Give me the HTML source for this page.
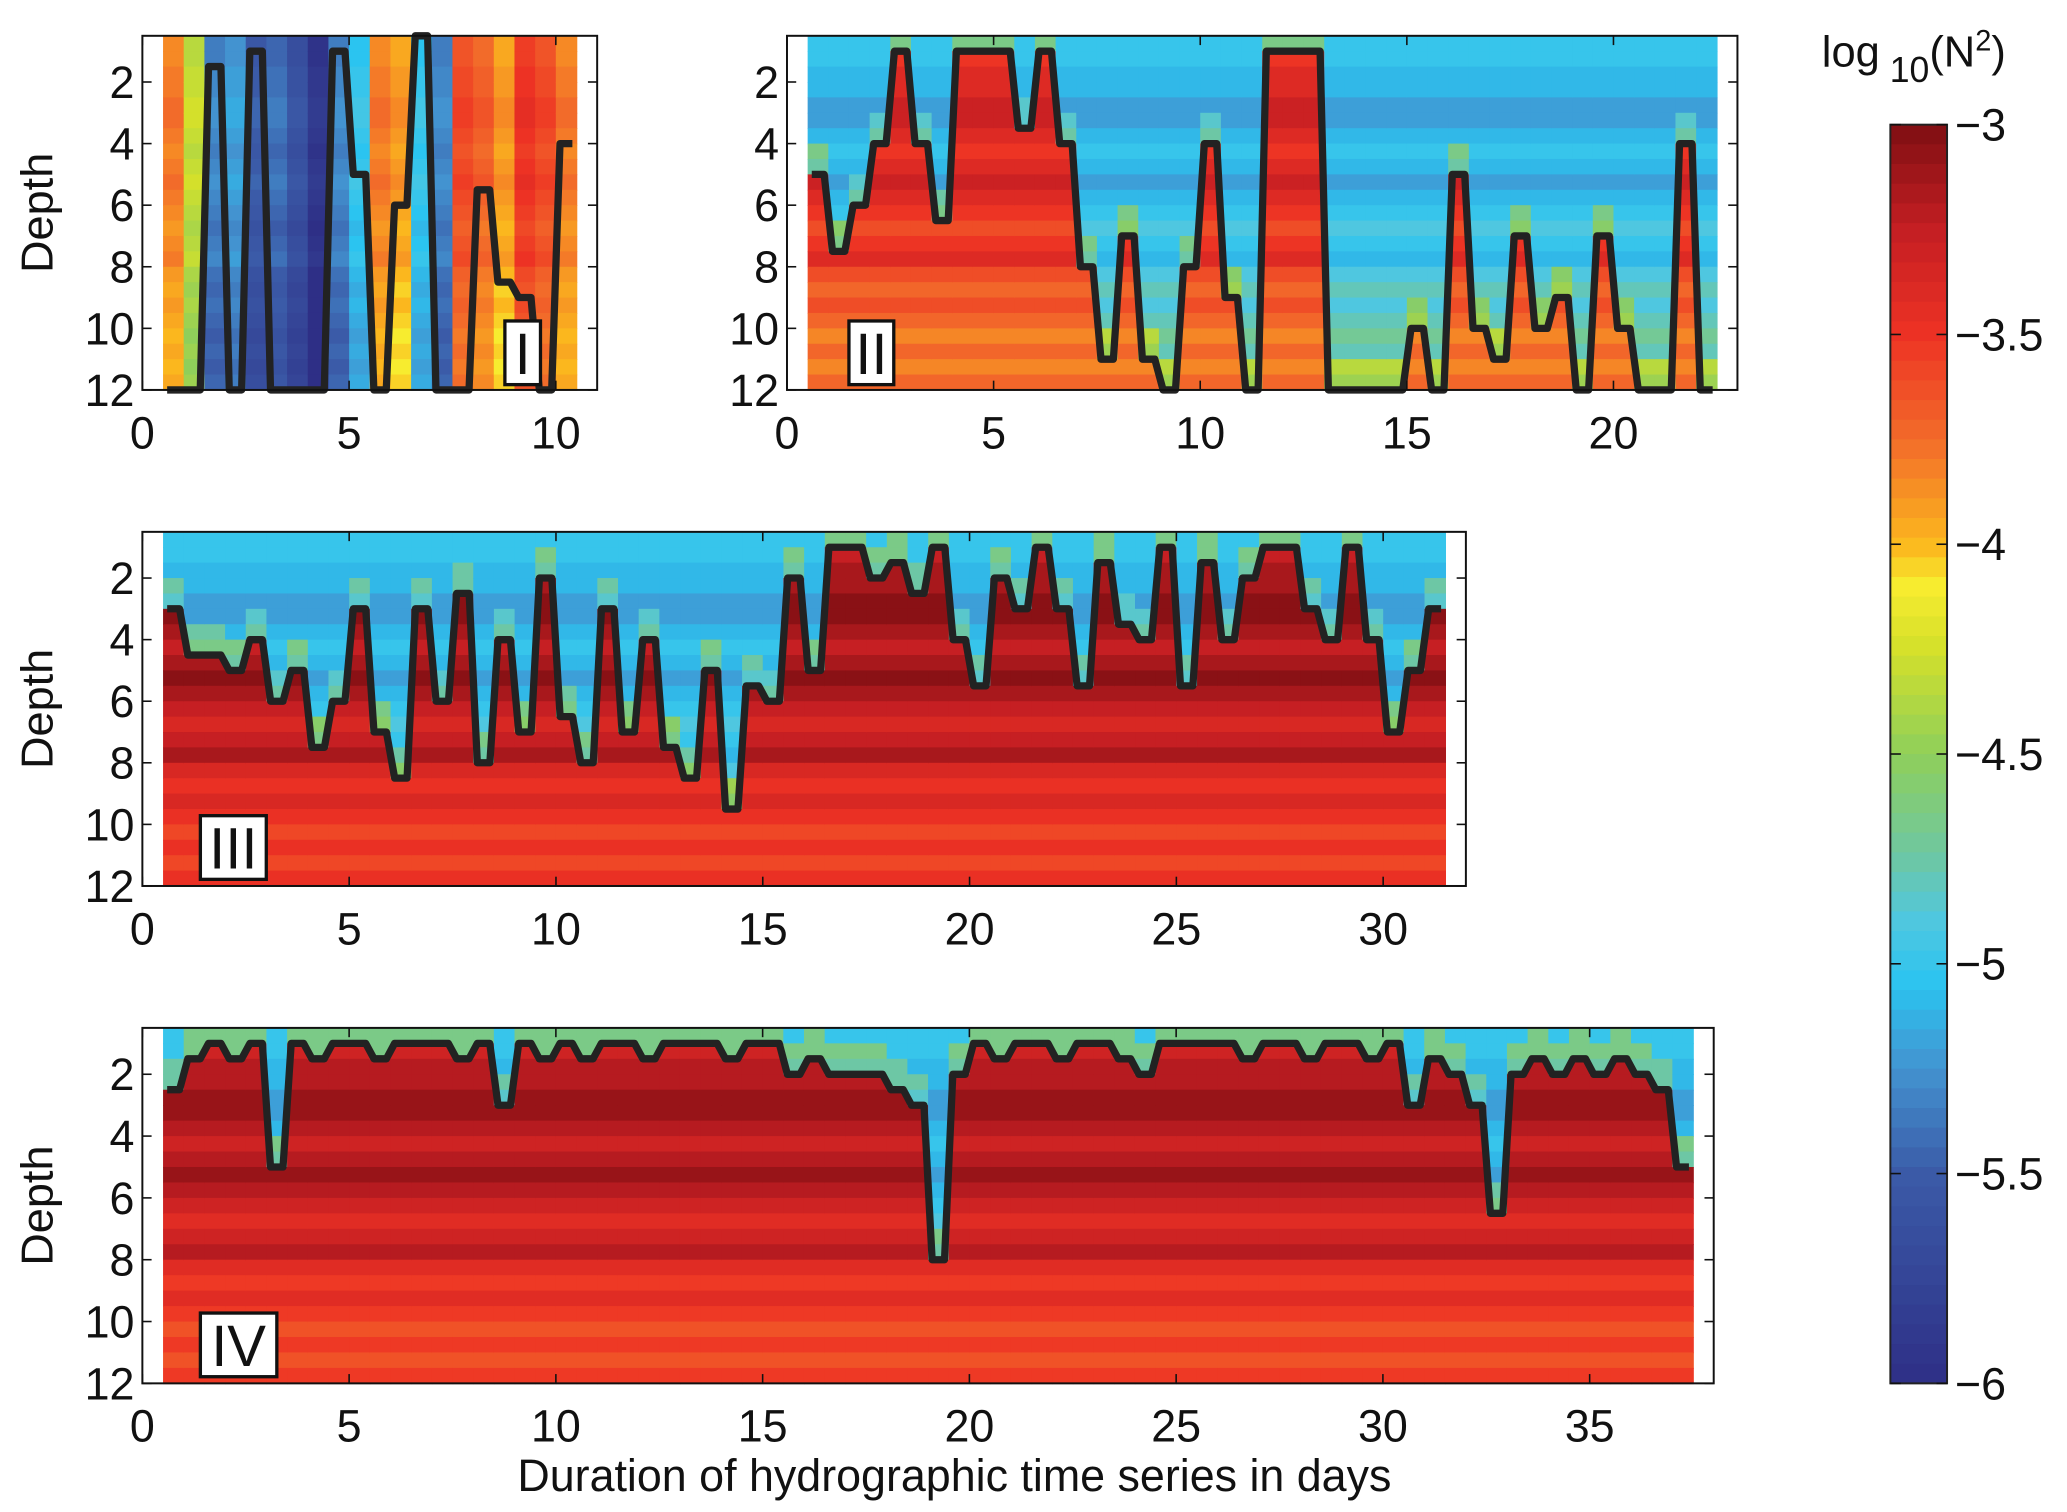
<!DOCTYPE html>
<html><head><meta charset="utf-8"><style>
html,body{margin:0;padding:0;background:#fff}
svg{display:block}
text{font-family:"Liberation Sans",sans-serif;fill:#111}
</style></head><body>
<svg id="fig" width="2067" height="1512" viewBox="0 0 1568 1140" preserveAspectRatio="none" xmlns="http://www.w3.org/2000/svg"></svg>
<script>
// ---------- data ----------
const depthBins = [0.5,1,1.5,2,2.5,3,3.5,4,4.5,5,5.5,6,6.5,7,7.5,8,8.5,9,9.5,10,10.5,11,11.5];
const depthProfile = [0.05,0.05,0,0,-0.05,-0.05,0,0.05,0,-0.05,0,0.05,0.1,0.05,0,0.1,0.15,0.1,0.15,0.2,0.15,0.2,0.15];
const p1Start = 0.5;
const p1Vals = [-3.8,-4.3,-5.3,-5.2,-5.5,-5.4,-5.6,-5.9,-5.3,-5.0,-3.8,-3.9,-5.0,-5.3,-3.6,-3.7,-3.9,-3.5,-3.6,-3.8];
const p1Mld = [12,12,1.5,12,1,12,12,12,1,5,12,6,0.5,12,12,5.5,8.5,9,12,4];
const p2Start = 0.5;
const p2Mld = [5,7.5,6,4,1,4,6.5,1,1,1,3.5,1,4,8,11,7,11,12,8,4,9,12,1,1,1,12,12,12,12,10,12,5,10,11,7,10,9,12,7,10,12,12,4,12];
const p3Start = 0.5;
const p3Mld = [3,4.5,4.5,5,4,6,5,7.5,6,3,7,8.5,3,6,2.5,8,4,7,2,6.5,8,3,7,4,7.5,8.5,5,9.5,5.5,6,2,5,1,1,2,1.5,2.5,1,4,5.5,2,3,1,3,5.5,1.5,3.5,4,1,5.5,1.5,4,2,1,1,3,4,1,4,7,5,3];
const p4Start = 0.5;
const p4Mld = [2.5,1.5,1,1.5,1,5,1,1.5,1,1,1.5,1,1,1,1.5,1,3,1,1.5,1,1.5,1,1,1.5,1,1,1,1.5,1,1,2,1.5,2,2,2,2.5,3,8,2,1,1.5,1,1,1.5,1,1,1.5,2,1,1,1,1,1.5,1,1,1.5,1,1,1.5,1,3,1.5,2,3,6.5,2,1.5,2,1.5,2,1.5,2,2.5,5];
const surfaceVal = -5.1;
const deepVals = {p2:-3.4, p3:-3.15, p4:-3.2};
const cbTicks = [-3,-3.5,-4,-4.5,-5,-5.5,-6];
const cbTickLabels = ["\u22123","\u22123.5","\u22124","\u22124.5","\u22125","\u22125.5","\u22126"];

// ---------- helpers ----------
const NS="http://www.w3.org/2000/svg";
const svg=document.getElementById('fig');
function mk(tag,attrs,parent){const e=document.createElementNS(NS,tag);for(const k in attrs)e.setAttribute(k,attrs[k]);(parent||svg).appendChild(e);return e;}
const cmapStops=[[-6,[46,47,134]],[-5.5,[59,91,168]],[-5.25,[67,147,208]],[-5.05,[43,196,240]],[-4.9,[79,199,224]],[-4.75,[109,199,165]],[-4.5,[143,207,90]],[-4.25,[212,224,43]],[-4.1,[247,236,47]],[-4,[251,183,30]],[-3.75,[242,107,42]],[-3.5,[237,50,36]],[-3.25,[196,30,35]],[-3,[127,15,18]]];
function cmap(v){v=Math.max(-6,Math.min(-3,v));for(let i=0;i<cmapStops.length-1;i++){const a=cmapStops[i],b=cmapStops[i+1];if(v<=b[0]){const t=(v-a[0])/(b[0]-a[0]);const c=a[1].map((x,j)=>Math.round(x+(b[1][j]-x)*t));return `rgb(${c[0]},${c[1]},${c[2]})`;}}return 'rgb(127,15,18)';}

const FS=34;
function panel(cfg){
  const g=mk('g',{});
  
  
  const xs=v=>cfg.x0+(v-0)/(cfg.xmax)*(cfg.x1-cfg.x0);
  const ys=d=>cfg.y0+(d-0.5)/(11.5)*(cfg.y1-cfg.y0);
  const n=cfg.mld.length;
  for(let i=0;i<n;i++){
    const t=cfg.start+i*0.5;
    for(let j=0;j<depthBins.length;j++){
      const d=depthBins[j];
      let v;
      if(cfg.vals) v=cfg.vals[i]-depthProfile[j];
      else if(d<cfg.mld[i]) v=surfaceVal+depthProfile[j]*2+(cfg.mld[i]-d<1.2?0.35:0);
      else v=cfg.deep-depthProfile[j]*2.2;
      const r=mk('rect',{x:xs(t),y:ys(d),width:xs(t+0.5)-xs(t)+0.6,height:ys(d+0.5)-ys(d)+0.6,fill:cmap(v)},g);
      
      
    }
  }
  let p='';
  for(let i=0;i<n;i++){const t=cfg.start+i*0.5;const d=Math.min(12,Math.max(0.5,cfg.mld[i]));
    p+=(i?'L':'M')+xs(t+0.1).toFixed(1)+','+ys(d).toFixed(1)+'L'+xs(t+0.4).toFixed(1)+','+ys(d).toFixed(1);}
  const ln=mk('path',{d:p,fill:'none',stroke:'#222',"stroke-width":5.5,"stroke-linejoin":"round"},g);
  
  
  const fr=mk('rect',{x:cfg.x0,y:cfg.y0,width:cfg.x1-cfg.x0,height:cfg.y1-cfg.y0,fill:'none',stroke:'#111',"stroke-width":1.5},g);
  
  
  [2,4,6,8,10,12].forEach(d=>{
    mk('line',{x1:cfg.x0,x2:cfg.x0+7,y1:ys(d),y2:ys(d),stroke:'#111',"stroke-width":1.2},g);
    mk('line',{x1:cfg.x1,x2:cfg.x1-7,y1:ys(d),y2:ys(d),stroke:'#111',"stroke-width":1.2},g);
    const tl=mk('text',{x:cfg.x0-6,y:ys(d)+12,"text-anchor":"end","font-size":FS},g);tl.textContent=d;
    
    
  });
  for(let v=0;v<=cfg.xmax;v+=5){
    mk('line',{x1:xs(v),x2:xs(v),y1:cfg.y1,y2:cfg.y1-7,stroke:'#111',"stroke-width":1.2},g);
    mk('line',{x1:xs(v),x2:xs(v),y1:cfg.y0,y2:cfg.y0+7,stroke:'#111',"stroke-width":1.2},g);
    const tl=mk('text',{x:xs(v),y:cfg.y1+44,"text-anchor":"middle","font-size":FS},g);tl.textContent=v;
    
    
  }
  if(cfg.ylabel){
    const yl=mk('text',{x:0,y:0,transform:`translate(40,${(cfg.y0+cfg.y1)/2}) rotate(-90)`,"text-anchor":"middle","font-size":FS},g);yl.textContent='Depth';
    
    
  }
  const lb=mk('rect',{x:cfg.lbl[0],y:cfg.lbl[1],width:cfg.lbl[2],height:48,fill:'#fff',stroke:'#111',"stroke-width":2.5},g);
  
  
  const lt=mk('text',{x:cfg.lbl[0]+cfg.lbl[2]/2,y:cfg.lbl[1]+40,"text-anchor":"middle","font-size":44},g);lt.textContent=cfg.label;
  
  
}

panel({name:'panel-i',x0:108,x1:453,xmax:11,y0:27,y1:294,start:p1Start,mld:p1Mld,vals:p1Vals,ylabel:true,label:'I',lbl:[383,242,27]});
panel({name:'panel-ii',x0:597,x1:1318,xmax:23,y0:27,y1:294,start:p2Start,mld:p2Mld,deep:deepVals.p2,ylabel:false,label:'II',lbl:[644,242,34]});
panel({name:'panel-iii',x0:108,x1:1112,xmax:32,y0:401,y1:668,start:p3Start,mld:p3Mld,deep:deepVals.p3,ylabel:true,label:'III',lbl:[152,615,50]});
panel({name:'panel-iv',x0:108,x1:1300,xmax:38,y0:775,y1:1043,start:p4Start,mld:p4Mld,deep:deepVals.p4,ylabel:true,label:'IV',lbl:[152,990,58]});

const xt=mk('text',{x:724,y:1124,"text-anchor":"middle","font-size":FS});xt.textContent='Duration of hydrographic time series in days';



const cb=mk('g',{});


const cbx=1434,cbw=43,cby0=94,cby1=1043;
const cys=v=>cby0+(-3-v)/3*(cby1-cby0);
for(let k=0;k<64;k++){
  const v=-3-(k+0.5)*3/64;
  const r=mk('rect',{x:cbx,y:cys(-3-k*3/64),width:cbw,height:(cby1-cby0)/64+0.6,fill:cmap(v)},cb);
  
  
}
mk('rect',{x:cbx,y:cby0,width:cbw,height:cby1-cby0,fill:'none',stroke:'#222',"stroke-width":1.5},cb);
cbTicks.forEach((v,i)=>{
  mk('line',{x1:cbx,x2:cbx+8,y1:cys(v),y2:cys(v),stroke:'#111',"stroke-width":1.2},cb);
  mk('line',{x1:cbx+cbw,x2:cbx+cbw-8,y1:cys(v),y2:cys(v),stroke:'#111',"stroke-width":1.2},cb);
  const t=mk('text',{x:cbx+cbw+6,y:cys(v)+12,"font-size":FS},cb);t.textContent=cbTickLabels[i];
  
  
});
const ct=mk('text',{x:1382,y:50,"font-size":33},cb);


ct.innerHTML='log<tspan dy="12" font-size="27"> 10</tspan><tspan dy="-12">(N</tspan><tspan dy="-12" font-size="22">2</tspan><tspan dy="12">)</tspan>';
</script>
</body></html>
